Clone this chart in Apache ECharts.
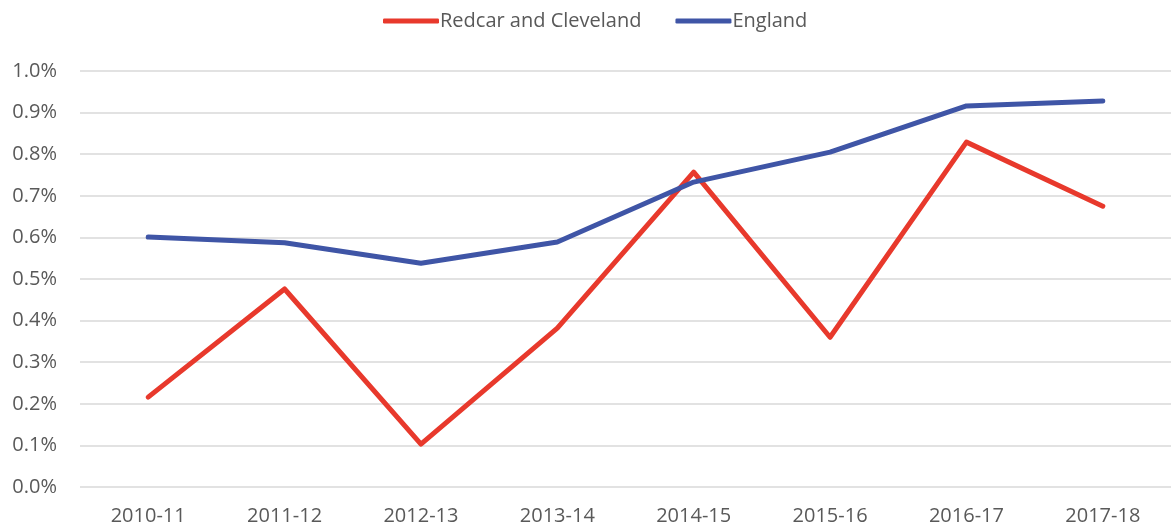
<!DOCTYPE html>
<html>
<head>
<meta charset="utf-8">
<script src="https://cdn.jsdelivr.net/npm/echarts@6/dist/echarts.min.js"></script>
<style>
  html, body { margin: 0; padding: 0; background: #fff; }
  #chart { width: 1171px; height: 530px; }
</style>
</head>
<body>
<div id="chart"></div>
<script>
// data (values in %)
var years = ['2010-11', '2011-12', '2012-13', '2013-14', '2014-15', '2015-16', '2016-17', '2017-18'];
var redcar = [0.216, 0.476, 0.103, 0.382, 0.757, 0.360, 0.829, 0.675];
var england = [0.601, 0.587, 0.538, 0.589, 0.733, 0.805, 0.916, 0.928];
var yTicks = [0, 0.1, 0.2, 0.3, 0.4, 0.5, 0.6, 0.7, 0.8, 0.9, 1.0];

var font = 'Open Sans';
var grey = '#595959';

function lineSeries(name, data, color) {
    return {
        name: name,
        type: 'line',
        data: data,
        symbol: 'none',
        lineStyle: { color: color, width: 5, cap: 'round', join: 'round' },
        itemStyle: { color: color }
    };
}

var chart = echarts.init(document.getElementById('chart'));
chart.setOption({
    animation: false,
    legend: {
        top: 6,
        left: 378,
        itemWidth: 56,
        itemHeight: 5,
        itemGap: 34,
        icon: 'roundRect',
        textStyle: { fontFamily: font, fontSize: 20, color: grey, padding: [0, 0, 0, -4] },
        data: ['Redcar and Cleveland', 'England']
    },
    grid: { left: 80, right: -4, top: 71, bottom: 43 },
    xAxis: {
        type: 'category',
        data: years,
        boundaryGap: true,
        axisLine: { show: false },
        axisTick: { show: false },
        axisLabel: { fontFamily: font, fontSize: 20, color: grey, margin: 19 }
    },
    yAxis: {
        type: 'value',
        min: yTicks[0],
        max: yTicks[yTicks.length - 1],
        interval: 0.1,
        axisLine: { show: false },
        axisTick: { show: false },
        splitLine: { lineStyle: { color: '#d9d9d9', width: 1.5 } },
        axisLabel: {
            fontFamily: font, fontSize: 20, color: grey, margin: 23,
            formatter: function (v) { return v.toFixed(1) + '%'; }
        }
    },
    series: [
        lineSeries('Redcar and Cleveland', redcar, '#e8392c'),
        lineSeries('England', england, '#3f55a6')
    ]
});
</script>
</body>
</html>
